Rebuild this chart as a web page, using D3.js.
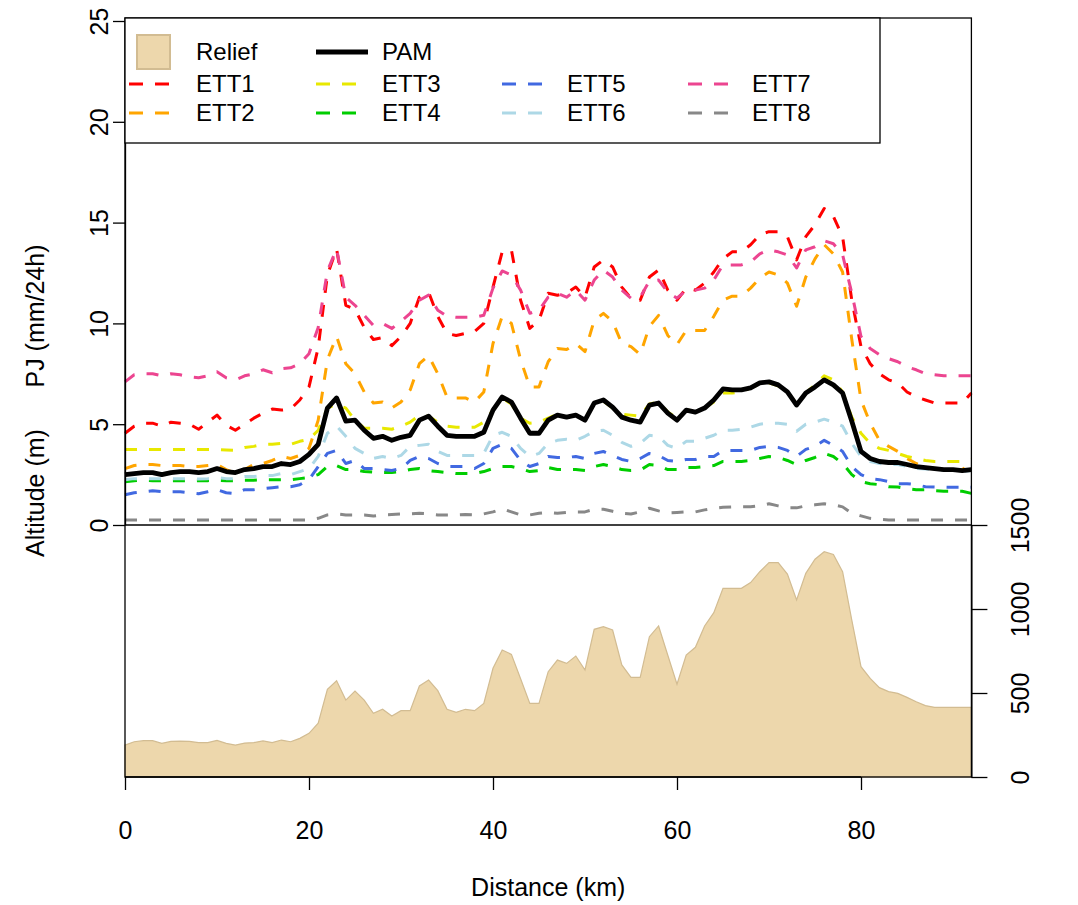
<!DOCTYPE html>
<html>
<head>
<meta charset="utf-8">
<script src="https://cdn.jsdelivr.net/npm/d3@7"></script>
<style>
  html, body { margin: 0; padding: 0; background: #fff; }
  svg { display: block; font-family: "Liberation Sans", Arial, Helvetica, sans-serif; }
</style>
</head>
<body>
<svg id="chart" width="1078" height="905"></svg>
<script>
// ---------------- DATA ----------------
const distanceKm = d3.range(0, 93);

const relief = [
  190, 210, 216, 216, 200, 212, 214, 212, 205, 205,
  218, 200, 190, 202, 205, 215, 205, 220, 210, 230,
  260, 320, 522, 573, 458, 512, 458, 379, 403, 363,
  395, 395, 542, 577, 514, 403, 385, 403, 395, 438,
  647, 756, 730, 585, 438, 438, 627, 696, 676, 720,
  637, 879, 895, 875, 667, 593, 593, 835, 899, 725,
  552, 726, 772, 899, 978, 1123, 1123, 1123, 1157, 1222,
  1276, 1276, 1208, 1054, 1212, 1296, 1341, 1325, 1222, 934,
  657, 587, 532, 508, 498, 474, 448, 425, 415, 415,
  415, 415, 415
];

const pam = [
  2.5, 2.55, 2.6, 2.6, 2.5, 2.6, 2.65, 2.65, 2.6, 2.65,
  2.8, 2.65, 2.6, 2.75, 2.8, 2.9, 2.9, 3.05, 3.0, 3.15,
  3.5, 4.0, 5.8, 6.3, 5.15, 5.2, 4.7, 4.3, 4.4, 4.2,
  4.35, 4.45, 5.2, 5.4, 4.9, 4.45, 4.4, 4.4, 4.4, 4.6,
  5.7, 6.35, 6.1, 5.3, 4.55, 4.55, 5.2, 5.45, 5.35, 5.45,
  5.2, 6.05, 6.2, 5.85, 5.35, 5.2, 5.1, 5.95, 6.05, 5.55,
  5.2, 5.7, 5.6, 5.8, 6.2, 6.75, 6.7, 6.7, 6.8, 7.05,
  7.1, 6.95, 6.6, 5.95, 6.55, 6.85, 7.2, 6.95, 6.55, 5.15,
  3.65, 3.3, 3.15, 3.1, 3.1, 3.0, 2.9, 2.85, 2.8, 2.75,
  2.75, 2.7, 2.75
];

const ett1 = [
  4.55, 4.9, 5.05, 5.05, 4.9, 5.1, 5.05, 5.0, 4.75, 5.1,
  5.45, 4.95, 4.7, 5.0, 5.3, 5.55, 5.75, 5.7, 5.75, 6.2,
  6.85, 8.8, 12.4, 13.7, 10.9, 10.7, 9.8, 9.2, 9.3, 8.9,
  9.35, 10.0, 11.3, 11.55, 10.35, 9.5, 9.4, 9.5, 9.6, 10.0,
  11.8, 13.55, 13.65, 11.15, 9.75, 10.15, 11.5, 11.4, 11.5, 11.8,
  11.3, 12.8, 13.15, 12.8, 11.8, 11.25, 11.15, 12.3, 12.65, 11.65,
  11.15, 11.75, 11.65, 12.0, 12.55, 13.2, 13.55, 13.55, 13.9, 14.4,
  14.55, 14.55, 14.3, 13.15, 14.3, 14.9, 15.7, 15.3, 14.3, 11.15,
  8.85, 8.0, 7.5, 7.2, 7.05, 6.6, 6.35, 6.2, 6.05, 6.05,
  6.05, 6.05, 6.55
];

const ett2 = [
  2.8, 2.95, 3.0, 3.0, 2.95, 2.95, 2.95, 2.9, 2.9, 2.95,
  3.0, 2.75, 2.55, 2.75, 3.0, 3.05, 3.2, 3.4, 3.3, 3.45,
  3.8, 5.2, 8.2, 9.35, 8.0, 7.5, 6.6, 6.05, 6.1, 5.8,
  6.1, 6.7, 8.0, 8.4, 7.5, 6.35, 6.3, 6.3, 6.1, 6.6,
  9.0, 10.35, 10.0, 8.2, 6.85, 6.85, 8.1, 8.75, 8.7, 9.0,
  8.6, 10.15, 10.5, 10.1, 9.0, 8.85, 8.45, 9.85, 10.4, 9.4,
  8.95, 9.65, 9.65, 9.65, 10.35, 11.15, 11.35, 11.35, 11.75, 12.25,
  12.55, 12.4, 12.0, 10.85, 12.3, 13.2, 13.9, 13.45, 12.55, 9.2,
  6.2, 5.05, 4.2, 3.9, 3.65, 3.3, 3.05, 2.9, 2.8, 2.75,
  2.75, 2.75, 3.05
];

const ett3 = [
  3.75, 3.75, 3.75, 3.75, 3.75, 3.75, 3.75, 3.75, 3.75, 3.75,
  3.75, 3.72, 3.7, 3.85, 3.9, 4.0, 4.0, 4.05, 4.0, 4.15,
  4.25, 4.7, 5.8, 6.0, 5.8, 5.2, 4.8, 4.8, 4.8, 4.75,
  4.9, 5.1, 5.45, 5.4, 5.1, 4.9, 4.85, 4.85, 4.85, 5.1,
  5.7, 6.3, 6.0, 5.3, 5.05, 5.1, 5.3, 5.5, 5.35, 5.45,
  5.3, 6.0, 6.15, 5.8, 5.5, 5.45, 5.4, 6.0, 6.1, 5.6,
  5.3, 5.7, 5.65, 5.8, 6.1, 6.55, 6.55, 6.6, 6.8, 7.0,
  7.05, 6.9, 6.6, 6.0, 6.55, 6.95, 7.4, 7.2, 6.6, 5.35,
  4.55, 4.05, 3.8, 3.7, 3.55, 3.4, 3.3, 3.2, 3.15, 3.15,
  3.15, 3.15, 3.25
];

const ett4 = [
  2.15, 2.2, 2.22, 2.2, 2.2, 2.2, 2.2, 2.2, 2.2, 2.2,
  2.22, 2.2, 2.2, 2.22, 2.22, 2.25, 2.25, 2.25, 2.25, 2.3,
  2.35, 2.5, 2.9, 2.95, 2.75, 2.75, 2.65, 2.62, 2.6, 2.6,
  2.65, 2.75, 2.8, 2.7, 2.65, 2.6, 2.55, 2.55, 2.55, 2.65,
  2.8, 2.9, 2.9, 2.8, 2.65, 2.7, 2.85, 2.75, 2.75, 2.75,
  2.7, 2.9, 3.0, 2.9, 2.75, 2.7, 2.72, 3.0, 2.95, 2.75,
  2.75, 2.85, 2.85, 2.9, 2.95, 3.15, 3.15, 3.15, 3.2, 3.3,
  3.4, 3.35, 3.2, 3.0, 3.2, 3.35, 3.55, 3.4, 3.05, 2.5,
  2.15, 2.05, 2.0, 1.9, 1.88, 1.8, 1.75, 1.75, 1.7, 1.67,
  1.67, 1.67, 1.57
];

const ett5 = [
  1.5, 1.6, 1.65, 1.7, 1.65, 1.65, 1.65, 1.6, 1.55, 1.65,
  1.75, 1.6, 1.55, 1.75, 1.75, 1.8, 1.85, 1.9, 1.9, 2.0,
  2.25, 2.9, 3.55, 3.7, 3.05, 3.2, 2.8, 2.8, 2.75, 2.7,
  2.8, 3.2, 3.4, 3.3, 3.05, 2.9, 2.9, 2.9, 2.8, 3.05,
  3.8, 4.0, 3.8, 3.2, 2.9, 3.05, 3.4, 3.35, 3.35, 3.4,
  3.3, 3.55, 3.65, 3.45, 3.25, 3.15, 3.3, 3.55, 3.45, 3.2,
  3.15, 3.25, 3.25, 3.4, 3.4, 3.7, 3.7, 3.7, 3.7, 3.85,
  3.9, 3.85, 3.7, 3.4, 3.75, 3.9, 4.2, 3.95, 3.65, 2.9,
  2.5, 2.3, 2.25, 2.15, 2.05, 2.05, 2.0, 1.9, 1.88, 1.88,
  1.87, 1.87, 1.87
];

const ett6 = [
  2.25, 2.3, 2.3, 2.3, 2.3, 2.3, 2.3, 2.3, 2.28, 2.3,
  2.35, 2.3, 2.3, 2.4, 2.4, 2.45, 2.45, 2.55, 2.5, 2.65,
  2.8, 3.4, 4.55, 4.9, 4.4, 3.8, 3.55, 3.3, 3.4, 3.3,
  3.45, 3.9, 3.95, 4.0, 3.65, 3.45, 3.45, 3.45, 3.45, 3.55,
  4.45, 4.6, 4.4, 3.8, 3.4, 3.55, 4.05, 4.2, 4.25, 4.2,
  4.4, 4.65, 4.7, 4.45, 4.1, 3.9, 4.05, 4.45, 4.4, 3.95,
  3.8, 4.15, 4.15, 4.3, 4.45, 4.7, 4.7, 4.75, 4.85, 5.0,
  5.05, 5.05, 5.0, 4.65, 5.0, 5.1, 5.25, 5.1, 4.9, 4.05,
  3.4, 3.15, 3.05, 3.0, 3.0, 2.9, 2.8, 2.78, 2.75, 2.72,
  2.72, 2.65, 2.7
];

const ett7 = [
  7.1, 7.45, 7.5, 7.5, 7.4, 7.5, 7.45, 7.35, 7.3, 7.4,
  7.6, 7.3, 7.2, 7.4, 7.5, 7.7, 7.55, 7.75, 7.8, 8.0,
  8.5, 9.8, 12.6, 13.7, 11.3, 10.9, 10.4, 9.9, 10.0, 9.75,
  10.1, 10.5, 11.15, 11.4, 10.65, 10.35, 10.3, 10.3, 10.3, 10.4,
  11.75, 12.6, 12.4, 11.65, 10.5, 10.65, 11.3, 11.5, 11.3, 11.65,
  11.15, 12.15, 12.65, 12.3, 11.65, 11.25, 11.3, 12.1, 12.15, 11.55,
  11.25, 11.65, 11.65, 11.75, 12.15, 12.9, 12.9, 12.9, 13.05, 13.45,
  13.65, 13.55, 13.4, 12.75, 13.65, 13.8, 14.1, 13.95, 13.4, 11.5,
  9.35, 8.75, 8.45, 8.25, 8.1, 7.85, 7.7, 7.5, 7.45, 7.4,
  7.4, 7.4, 7.4
];

const ett8 = [
  0.25, 0.25, 0.25, 0.25, 0.25, 0.25, 0.25, 0.25, 0.25, 0.25,
  0.25, 0.25, 0.25, 0.25, 0.25, 0.25, 0.25, 0.25, 0.25, 0.25,
  0.25, 0.33, 0.5, 0.55, 0.5, 0.5, 0.5, 0.45, 0.5, 0.52,
  0.55, 0.55, 0.58, 0.55, 0.5, 0.5, 0.5, 0.52, 0.5, 0.55,
  0.65, 0.8, 0.65, 0.5, 0.5, 0.58, 0.62, 0.58, 0.62, 0.65,
  0.65, 0.78, 0.78, 0.68, 0.58, 0.55, 0.65, 0.83, 0.7, 0.6,
  0.62, 0.65, 0.65, 0.75, 0.83, 0.88, 0.9, 0.9, 0.9, 0.95,
  1.05, 0.95, 0.85, 0.85, 0.95, 1.0, 1.05, 1.0, 0.9, 0.58,
  0.45, 0.33, 0.28, 0.25, 0.25, 0.25, 0.25, 0.25, 0.25, 0.25,
  0.25, 0.25, 0.25
];

const ettNames = ["ETT1", "ETT2", "ETT3", "ETT4", "ETT5", "ETT6", "ETT7", "ETT8"];
const ettValues = [ett1, ett2, ett3, ett4, ett5, ett6, ett7, ett8];
const ettColors = ["#FF0000", "#FFA500", "#E8E800", "#00CD00", "#4169E1", "#ADD8E6", "#EC4590", "#888888"];

const pjTicks = [0, 5, 10, 15, 20, 25];
const altTicks = [0, 500, 1000, 1500];
const distTicks = [0, 20, 40, 60, 80];

// ---------------- LAYOUT ----------------
const svg = d3.select("#chart");
const L = 125, R = 971.4, T = 18, B = 777, MID = 525;
const FS = 25;
const LFS = 24;
const FONT = '"Liberation Sans", Arial, sans-serif';

const x = d3.scaleLinear().domain([0, 92]).range([L, R]);
const yPJ = d3.scaleLinear().domain([0, 25]).range([MID, 21]);
const yAlt = d3.scaleLinear().domain([0, 1500]).range([B, MID]);

const reliefFill = "#EDD7AC", reliefStroke = "#D2BC92";

// Relief area
const area = d3.area()
  .x((d, i) => x(distanceKm[i]))
  .y0(yAlt(0))
  .y1(d => yAlt(d));
svg.append("path")
  .datum(relief)
  .attr("d", area)
  .attr("fill", reliefFill)
  .attr("stroke", reliefStroke)
  .attr("stroke-width", 1.2);

// Lines
const line = d3.line()
  .x((d, i) => x(distanceKm[i]))
  .y(d => yPJ(d));

ettValues.forEach((vals, k) => {
  svg.append("path")
    .datum(vals)
    .attr("d", line)
    .attr("fill", "none")
    .attr("stroke", ettColors[k])
    .attr("stroke-width", 3)
    .attr("stroke-dasharray", "12,12")
    .attr("stroke-linejoin", "round");
});

svg.append("path")
  .datum(pam)
  .attr("d", line)
  .attr("fill", "none")
  .attr("stroke", "#000")
  .attr("stroke-width", 4.8)
  .attr("stroke-linejoin", "round");

// Frame
svg.append("rect")
  .attr("x", L).attr("y", T)
  .attr("width", R - L).attr("height", B - T)
  .attr("fill", "none").attr("stroke", "#000").attr("stroke-width", 1.3);
svg.append("line")
  .attr("x1", L).attr("x2", R).attr("y1", MID).attr("y2", MID)
  .attr("stroke", "#000").attr("stroke-width", 1.3);

// Axes
function styleAxis(g) {
  g.attr("font-size", FS).attr("font-family", FONT);
  g.selectAll("path.domain").attr("stroke", "#000").attr("stroke-width", 1.3);
  g.selectAll(".tick line").attr("stroke", "#000").attr("stroke-width", 1.3);
  g.selectAll("text").attr("fill", "#000");
}

const gLeft = svg.append("g").attr("transform", `translate(${L},0)`)
  .call(d3.axisLeft(yPJ).tickValues(pjTicks).tickSize(12).tickSizeOuter(0).tickFormat(d3.format("d")));
styleAxis(gLeft);
gLeft.selectAll(".tick text")
  .attr("transform", "rotate(-90)")
  .attr("x", 0).attr("y", -26).attr("dy", "0.35em")
  .attr("text-anchor", "middle");

const gRight = svg.append("g").attr("transform", `translate(${R},0)`)
  .call(d3.axisRight(yAlt).tickValues(altTicks).tickSize(16).tickSizeOuter(0).tickFormat(d3.format("d")));
styleAxis(gRight);
gRight.selectAll(".tick text")
  .attr("transform", "rotate(-90)")
  .attr("x", 0).attr("y", 49).attr("dy", "0.35em")
  .attr("text-anchor", "middle");

const gBottom = svg.append("g").attr("transform", `translate(0,${B})`)
  .call(d3.axisBottom(x).tickValues(distTicks).tickSize(13).tickSizeOuter(0).tickFormat(d3.format("d")));
styleAxis(gBottom);
gBottom.select("path.domain").remove();
gBottom.append("line").attr("x1", x(0)).attr("x2", x(80)).attr("y1", 0).attr("y2", 0)
  .attr("stroke", "#000").attr("stroke-width", 1.3);
gBottom.selectAll(".tick text").attr("y", 53).attr("dy", "0.35em");

// Axis titles
function vText(cx, cy, txt) {
  svg.append("text")
    .attr("transform", `translate(${cx},${cy}) rotate(-90)`)
    .attr("text-anchor", "middle").attr("dy", "0.35em")
    .attr("font-size", FS).attr("font-family", FONT).attr("fill", "#000")
    .text(txt);
}
vText(35, 316, "PJ (mm/24h)");
vText(35, 493, "Altitude (m)");
svg.append("text")
  .attr("x", (L + R) / 2).attr("y", 887).attr("dy", "0.35em")
  .attr("text-anchor", "middle").attr("font-size", FS).attr("font-family", FONT).attr("fill", "#000")
  .text("Distance (km)");

// Legend
const lg = svg.append("g").attr("font-size", LFS).attr("font-family", FONT);
lg.append("rect")
  .attr("x", L).attr("y", T).attr("width", 880 - L).attr("height", 143 - T)
  .attr("fill", "#fff").attr("stroke", "#000").attr("stroke-width", 1.3);

const colLine = [129, 316, 502, 688];
const colText = [196, 382, 567, 752];
const rowY = [52, 84, 113];
const segLen = 44;

// Relief swatch
lg.append("rect")
  .attr("x", 137).attr("y", 35).attr("width", 33).attr("height", 34)
  .attr("fill", reliefFill).attr("stroke", reliefStroke).attr("stroke-width", 2);
lg.append("text").attr("x", colText[0]).attr("y", rowY[0]).attr("dy", "0.35em")
  .attr("fill", "#000").text("Relief");

// PAM
lg.append("line").attr("x1", colLine[1]).attr("x2", colLine[1] + segLen + 8)
  .attr("y1", rowY[0]).attr("y2", rowY[0])
  .attr("stroke", "#000").attr("stroke-width", 4.8);
lg.append("text").attr("x", colText[1]).attr("y", rowY[0]).attr("dy", "0.35em")
  .attr("fill", "#000").text("PAM");

ettNames.forEach((name, k) => {
  const col = Math.floor(k / 2), row = 1 + (k % 2);
  lg.append("line")
    .attr("x1", colLine[col]).attr("x2", colLine[col] + segLen)
    .attr("y1", rowY[row]).attr("y2", rowY[row])
    .attr("stroke", ettColors[k]).attr("stroke-width", 3)
    .attr("stroke-dasharray", "14,12");
  lg.append("text").attr("x", colText[col]).attr("y", rowY[row]).attr("dy", "0.35em")
    .attr("fill", "#000").text(name);
});
</script>
</body>
</html>
